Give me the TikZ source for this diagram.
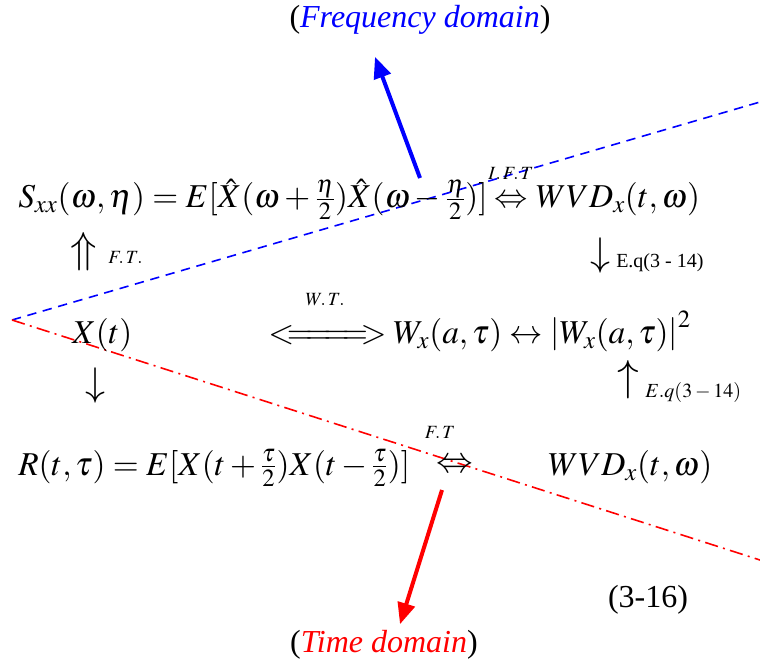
\documentclass[tikz,border=0pt]{standalone}
\usepackage{mathptmx}
\usepackage{fontspec}
\setmainfont{Liberation Serif}
\usetikzlibrary{arrows.meta,positioning,calc}

\begin{document}
\begin{tikzpicture}[x=0.75pt, y=-0.75pt,
    fml/.style={inner sep=0pt, font=\fontsize{25}{30}\selectfont},
    tag/.style={inner sep=0pt, font=\fontsize{14}{16}\selectfont},
    eqref/.style={inner sep=0pt, font=\fontsize{15}{18}\selectfont},
    dom/.style={inner sep=0pt, font=\fontsize{24}{28}\selectfont},
    bigarrow/.style={line width=3pt, -{Triangle[length=16pt,width=13pt]}}]
    \useasboundingbox (0,0) rectangle (760,663);

    % Domain borders
    \coordinate (apex) at (12,320);
    \coordinate (freqEnd) at (760,102);
    \coordinate (timeEnd) at (760,560);
    \draw[blue, line width=1.2pt, dash pattern=on 7pt off 5pt] (apex) -- (freqEnd);
    \draw[red, line width=1.2pt, dash pattern=on 10pt off 4pt on 1.5pt off 4pt] (apex) -- (timeEnd);

    % Frequency row
    \node[fml, anchor=base west] (sxx) at (18,208) {$S_{xx}(\omega,\eta)=E[\hat{X}(\omega+\frac{\eta}{2})\hat{X}(\omega-\frac{\eta}{2})]$};
    \node[fml, anchor=base west] (iftArr) at ($(sxx.base east)+(6,0)$) {$\Leftrightarrow$};
    \node[tag, above=12pt of iftArr] (ift) {$I.\,F.\,T$};
    \node[fml, anchor=base west] (wvdTop) at ($(iftArr.base east)+(8,0)$) {$WVD_x(t,\omega)$};
    \node[fml, scale=1.3] (upFT) at (84,252) {$\Uparrow$};
    \node[tag, anchor=base west] (ftA) at (108,263) {$F.\,T.$};
    \node[fml, scale=1.2] (downEq) at (600,255) {$\downarrow$};
    \node[eqref, anchor=base west] (eqA) at (616,267) {E.q(3 - 14)};

    % Signal row
    \node[fml, anchor=base west] (xt) at (72,343) {$X(t)$};
    \node[fml, anchor=base west] (wtArr) at (268,343) {$<\!\!=\!\!=\!\!=\!\!=\!\!>$};
    \node[tag] (wt) at (325,300) {$W.\,T.$};
    \node[fml, anchor=base west] (wx) at (393,343) {$W_x(a,\tau)\leftrightarrow\left|W_x(a,\tau)\right|^2$};
    \node[fml, scale=1.2] (downX) at (95,385) {$\downarrow$};
    \node[fml, scale=1.3] (upEq) at (628,380) {$\uparrow$};
    \node[eqref, anchor=base west] (eqB) at (645,397) {$E.q(3-14)$};

    % Time row
    \node[fml, anchor=base west] (rtt) at (18,475) {$R(t,\tau)=E[X(t+\frac{\tau}{2})X(t-\frac{\tau}{2})]$};
    \node[fml, scale=1.1] (ftArr) at (455,466) {$\Leftrightarrow$};
    \node[tag] (ftB) at (440,432) {$F.\,T$};
    \node[fml, anchor=base west] (wvdBot) at (548,475) {$WVD_x(t,\omega)$};

    % Domain labels
    \node[dom] (freq) at (420,20) {(\textcolor{blue}{\itshape Frequency domain})};
    \node[dom] (time) at (384,645) {(\textcolor{red}{\itshape Time domain})};
    \node[dom] (eqNum) at (648,600) {(3-16)};
    \coordinate (freqTail) at (420,178);
    \coordinate (timeTail) at (442,490);
    \draw[bigarrow, blue] (freqTail) -- ($(freq.south)+(-45,22)$);
    \draw[bigarrow, red] (timeTail) -- ($(time.north)+(16,-6)$);
\end{tikzpicture}
\end{document}
